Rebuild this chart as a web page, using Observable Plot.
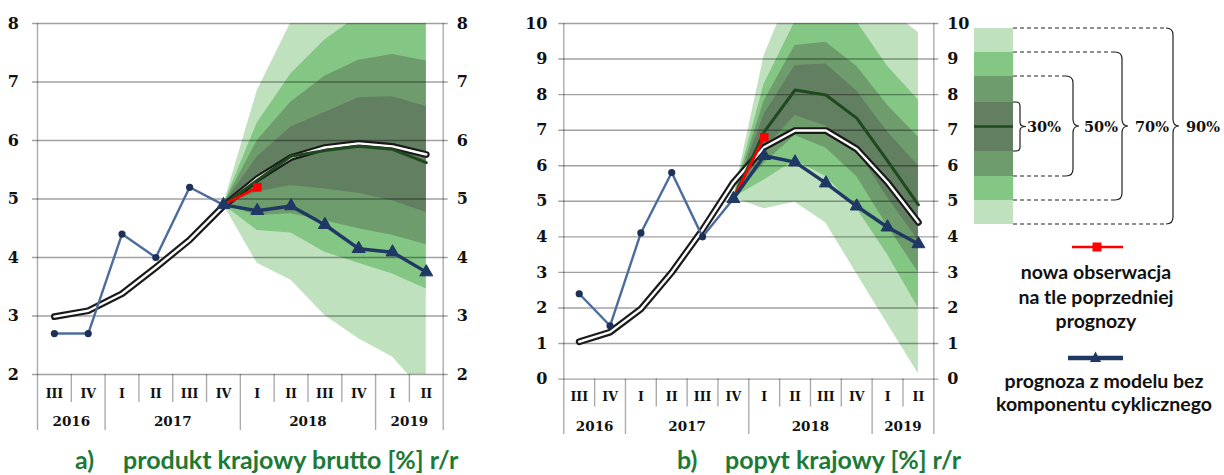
<!DOCTYPE html>
<html><head><meta charset="utf-8">
<script src="https://cdn.jsdelivr.net/npm/d3@7"></script>
<script src="https://cdn.jsdelivr.net/npm/@observablehq/plot@0.6"></script>
<style>
body{margin:0;background:#fff;}
#wrap{position:relative;width:1224px;height:475px;overflow:hidden;background:#fff;}
#pa{position:absolute;left:0;top:0}
#pb{position:absolute;left:500px;top:0}
#ov{position:absolute;left:0;top:0;pointer-events:none}
</style></head>
<body><div id="wrap"><div id="pa"></div><div id="pb"></div><svg id="ov" width="1224" height="475"></svg></div>
<script>
// ---------- categories ----------
const quarters = ["III","IV","I","II","III","IV","I","II","III","IV","I","II"];
const years = ["2016","2016","2017","2017","2017","2017","2018","2018","2018","2018","2019","2019"];
const fanStart = 5; // index of IV 2017 (first forecast point)

// ---------- panel a: produkt krajowy brutto ----------
const aTicks = [2,3,4,5,6,7,8];
const aActual = [2.7, 2.7, 4.4, 4.0, 5.2, 4.9];                 // III 2016 .. IV 2017
const aPrev = [2.99, 3.09, 3.38, 3.83, 4.3, 4.88, 5.35, 5.71, 5.88, 5.95, 5.9, 5.76];
const aNewObs = [4.9, 5.2];                                      // IV 2017, I 2018
const aNoCycle = [4.9, 4.8, 4.88, 4.56, 4.15, 4.09, 3.75];       // IV 2017 .. II 2019
const aCentral = [4.9, 5.32, 5.73, 5.83, 5.9, 5.85, 5.62];
const aHi90 = [4.9, 6.85, 8.02, 8.7, 9.4, 9.4, 9.5];
const aHi70 = [4.9, 6.3, 7.14, 7.72, 8.13, 8.2, 8.3];
const aHi50 = [4.9, 6.0, 6.66, 7.1, 7.37, 7.47, 7.36];
const aHi30 = [4.9, 5.72, 6.23, 6.48, 6.73, 6.75, 6.58];
const aLo30 = [4.9, 5.12, 5.23, 5.17, 5.10, 4.97, 4.77];
const aLo50 = [4.9, 4.72, 4.75, 4.63, 4.49, 4.38, 4.22];
const aLo70 = [4.9, 4.46, 4.42, 4.09, 3.90, 3.72, 3.46];
const aLo90 = [4.9, 3.90, 3.61, 3.01, 2.61, 2.30, 1.65];

// ---------- panel b: popyt krajowy ----------
const bTicks = [0,1,2,3,4,5,6,7,8,9,10];
const bActual = [2.4, 1.5, 4.11, 5.81, 4.0, 5.07];
const bPrev = [1.05, 1.32, 1.97, 3.0, 4.2, 5.53, 6.52, 6.99, 6.99, 6.47, 5.53, 4.41];
const bNewObs = [5.07, 6.8];
const bNoCycle = [5.07, 6.28, 6.10, 5.51, 4.86, 4.27, 3.80];
const bCentral = [5.07, 6.95, 8.13, 7.99, 7.34, 6.14, 4.9];
const bHi90 = [5.1, 9.1, 11.2, 11.6, 11.0, 10.4, 9.75];
const bHi70 = [5.1, 8.3, 10.05, 10.27, 10.05, 8.8, 7.85];
const bHi50 = [5.1, 7.83, 9.38, 9.47, 8.8, 7.7, 6.8];
const bHi30 = [5.1, 7.45, 8.82, 8.86, 8.1, 6.95, 6.0];
const bLo30 = [5.1, 6.45, 7.41, 7.12, 6.45, 5.1, 3.9];
const bLo50 = [5.1, 6.07, 6.85, 6.5, 5.7, 4.3, 3.0];
const bLo70 = [5.1, 5.6, 6.15, 5.7, 4.8, 3.5, 2.0];
const bLo90 = [5.1, 4.79, 4.97, 4.39, 2.96, 1.55, 0.15];

// ---------- styles ----------
const C = {
  light: "#bfe1bd", medium: "#84c683", mid: "#6e9c6d", dark: "#627f61",
  central: "#1f4a1f", actual: "#4b6c9c", dotFill: "#1b3158", navy: "#1f3864",
  red: "#ff0000", green: "#1c7a36"
};
const serif = "DejaVu Serif";

function seriesRows(vals, start) { return vals.map((v, k) => ({i: start + k, v})); }

function panel(o) {
  const plotH = o.height - o.marginTop - o.marginBottom;
  const ymin = o.yDomain[0], ymax = o.yDomain[1];
  const k = (ymax - ymin) / plotH; // data units per pixel
  const fan = o.central.map((c, j) => ({
    i: fanStart + j, c,
    hi90: o.hi90[j], hi70: o.hi70[j], hi50: o.hi50[j], hi30: o.hi30[j],
    lo30: o.lo30[j], lo50: o.lo50[j], lo70: o.lo70[j], lo90: o.lo90[j]
  }));
  const divs = [];
  for (let b = 0; b <= quarters.length; b++) {
    const edge = b === 0 || b === quarters.length;
    const isYear = edge || years[b] !== years[b - 1];
    divs.push({x: b - 0.5, y1: edge ? ymax : ymin, y2: ymin - (isYear ? o.longPx : o.shortPx) * k});
  }
  const groups = [];
  years.forEach((y, i) => {
    const g = groups.find(g => g.year === y);
    if (g) g.end = i; else groups.push({year: y, start: i, end: i});
  });
  const prev = seriesRows(o.prev, 0);
  const actual = seriesRows(o.actual, 0);
  const newObs = seriesRows(o.newObs, fanStart);
  const noCycle = seriesRows(o.noCycle, fanStart);
  const central = seriesRows(o.central, fanStart);
  return Plot.plot({
    width: o.width, height: o.height,
    marginLeft: o.marginLeft, marginRight: o.marginRight,
    marginTop: o.marginTop, marginBottom: o.marginBottom,
    x: {type: "linear", domain: [-0.5, quarters.length - 0.5], axis: null},
    y: {domain: o.yDomain, axis: null},
    style: {background: "transparent", overflow: "visible"},
    marks: [
      Plot.areaY(fan, {x: "i", y1: "lo90", y2: "hi90", fill: C.light, clip: true}),
      Plot.areaY(fan, {x: "i", y1: "lo70", y2: "hi70", fill: C.medium, clip: true}),
      Plot.areaY(fan, {x: "i", y1: "lo50", y2: "hi50", fill: C.mid, clip: true}),
      Plot.areaY(fan, {x: "i", y1: "lo30", y2: "hi30", fill: C.dark, clip: true}),
      Plot.ruleY(o.ticks, {stroke: "#000", strokeOpacity: 0.37, strokeWidth: 1.4, insetLeft: -5, insetRight: -5}),
      Plot.ruleX(divs, {x: "x", y1: "y1", y2: "y2", stroke: "#000", strokeOpacity: 0.33, strokeWidth: 1.4}),
      Plot.line(prev, {x: "i", y: "v", stroke: "#1a1a1a", strokeWidth: 6.8, strokeLinecap: "round", strokeLinejoin: "round"}),
      Plot.line(prev, {x: "i", y: "v", stroke: "#fff", strokeWidth: 2.4, strokeLinecap: "round", strokeLinejoin: "round"}),
      Plot.line(central, {x: "i", y: "v", stroke: C.central, strokeWidth: 3}),
      Plot.line(actual, {x: "i", y: "v", stroke: C.actual, strokeWidth: 2.4}),
      Plot.dot(actual, {x: "i", y: "v", r: 3.6, fill: C.dotFill}),
      Plot.line(newObs, {x: "i", y: "v", stroke: C.red, strokeWidth: 2.6}),
      Plot.dot(newObs.slice(1), {x: "i", y: "v", symbol: "square", r: 4.9, fill: C.red}),
      Plot.line(noCycle, {x: "i", y: "v", stroke: C.navy, strokeWidth: 3.4}),
      Plot.dot(noCycle, {x: "i", y: "v", symbol: "triangle", r: 4.8, fill: C.navy, stroke: C.navy, strokeWidth: 1}),
      Plot.text(o.ticks, {y: d => d, text: d => String(d), frameAnchor: "left", textAnchor: "end", dx: o.leftDx,
        fontFamily: serif, fontWeight: "bold", fontSize: 16, fill: "#111"}),
      Plot.text(o.ticks, {y: d => d, text: d => String(d), frameAnchor: "right", textAnchor: "start", dx: o.rightDx,
        fontFamily: serif, fontWeight: "bold", fontSize: 16, fill: "#111"}),
      Plot.text(quarters, {x: (d, i) => i, y: () => ymin, dy: o.qDy, text: d => d,
        fontFamily: serif, fontWeight: "bold", fontSize: 12.5, fill: "#111"}),
      Plot.text(groups, {x: g => (g.start + g.end) / 2, y: () => ymin, dy: o.yDy, text: "year",
        fontFamily: serif, fontWeight: "bold", fontSize: 13.5, fill: "#111"})
    ]
  });
}

document.getElementById("pa").appendChild(panel({
  width: 490, height: 440, marginLeft: 37, marginRight: 47.3, marginTop: 23, marginBottom: 66,
  yDomain: [2, 8], ticks: aTicks, leftDx: -18.5, rightDx: 13.5, qDy: 19, yDy: 47, shortPx: 28, longPx: 56,
  actual: aActual, prev: aPrev, newObs: aNewObs, noCycle: aNoCycle, central: aCentral,
  hi90: aHi90, hi70: aHi70, hi50: aHi50, hi30: aHi30, lo30: aLo30, lo50: aLo50, lo70: aLo70, lo90: aLo90
}));
document.getElementById("pb").appendChild(panel({
  width: 470, height: 440, marginLeft: 63.3, marginRight: 36.7, marginTop: 23, marginBottom: 61.4,
  yDomain: [0, 10], ticks: bTicks, leftDx: -16.3, rightDx: 13.4, qDy: 18, yDy: 47.4, shortPx: 28, longPx: 55.5,
  actual: bActual, prev: bPrev, newObs: bNewObs, noCycle: bNoCycle, central: bCentral,
  hi90: bHi90, hi70: bHi70, hi50: bHi50, hi30: bHi30, lo30: bLo30, lo50: bLo50, lo70: bLo70, lo90: bLo90
}));

// ---------- overlay: subtitles and legend ----------
const ov = d3.select("#ov");
const subtitles = [
  {tag: "a)", text: "produkt krajowy brutto [%] r/r", x0: 75, x1: 123},
  {tag: "b)", text: "popyt krajowy [%] r/r", x0: 677, x1: 725}
];
subtitles.forEach(s => {
  ov.append("text").attr("x", s.x0).attr("y", 469).text(s.tag)
    .attr("font-family", "Lato").attr("font-weight", "bold").attr("font-size", 25).attr("fill", C.green);
  ov.append("text").attr("x", s.x1).attr("y", 469).text(s.text)
    .attr("font-family", "Lato").attr("font-weight", "bold").attr("font-size", 25).attr("fill", C.green);
});

const bandLabels = ["90%", "70%", "50%", "30%"];
const edges = [28, 52, 76, 102, 151, 176, 200, 224];
const lx0 = 974, lx1 = 1013;
const barCols = [C.light, C.medium, C.mid, C.dark, C.mid, C.medium, C.light];
barCols.forEach((c, j) => {
  ov.append("rect").attr("x", lx0).attr("y", edges[j]).attr("width", lx1 - lx0).attr("height", edges[j + 1] - edges[j]).attr("fill", c);
});
const ymid = (edges[3] + edges[4]) / 2;
ov.append("line").attr("x1", lx0).attr("x2", lx1).attr("y1", ymid).attr("y2", ymid).attr("stroke", C.central).attr("stroke-width", 2.6);

const braceX = [1173, 1122, 1073, 1020];
const labelX = [1186, 1135, 1084, 1027];
function bracePath(bx, yt, yb, r, tip) {
  const ym = (yt + yb) / 2;
  return `M${bx - r},${yt} Q${bx},${yt} ${bx},${yt + r} L${bx},${ym - r} Q${bx},${ym} ${bx + tip},${ym} ` +
         `Q${bx},${ym} ${bx},${ym + r} L${bx},${yb - r} Q${bx},${yb} ${bx - r},${yb}`;
}
bandLabels.forEach((lab, j) => {
  const yt = edges[j], yb = edges[7 - j];
  const bx = braceX[j];
  const r = j === 3 ? 4 : 7;
  [yt, yb].forEach(y => {
    const ln = ov.append("line").attr("x1", lx1).attr("x2", bx - r).attr("y1", y).attr("y2", y)
      .attr("stroke", "#222").attr("stroke-width", 1.1);
    if (j < 3) ln.attr("stroke-dasharray", "4,3");
  });
  ov.append("path").attr("d", bracePath(bx, yt, yb, r, 6)).attr("fill", "none").attr("stroke", "#222").attr("stroke-width", 1.2);
  ov.append("text").attr("x", labelX[j]).attr("y", ymid).attr("dy", "0.35em").text(lab)
    .attr("font-family", serif).attr("font-weight", "bold").attr("font-size", 14.5).attr("fill", "#111");
});

// line legends
ov.append("line").attr("x1", 1072).attr("x2", 1123).attr("y1", 247).attr("y2", 247).attr("stroke", C.red).attr("stroke-width", 2.6);
ov.append("rect").attr("x", 1097 - 4.5).attr("y", 247 - 4.5).attr("width", 9).attr("height", 9).attr("fill", C.red);
const t1 = ["nowa obserwacja", "na tle poprzedniej", "prognozy"];
t1.forEach((t, j) => ov.append("text").attr("x", 1096).attr("y", 279 + j * 24.5).attr("text-anchor", "middle").text(t)
  .attr("font-family", "Lato").attr("font-weight", "bold").attr("font-size", 19.5).attr("fill", "#111"));
ov.append("line").attr("x1", 1068).attr("x2", 1123).attr("y1", 358).attr("y2", 358).attr("stroke", C.navy).attr("stroke-width", 4.5);
ov.append("path").attr("d", "M1095.5,351.5 L1101,362 L1090,362 Z").attr("fill", C.navy);
const t2 = ["prognoza z modelu bez", "komponentu cyklicznego"];
t2.forEach((t, j) => ov.append("text").attr("x", 1104).attr("y", 388 + j * 23).attr("text-anchor", "middle").text(t)
  .attr("font-family", "Lato").attr("font-weight", "bold").attr("font-size", 19.5).attr("fill", "#111"));
</script>
</body></html>
